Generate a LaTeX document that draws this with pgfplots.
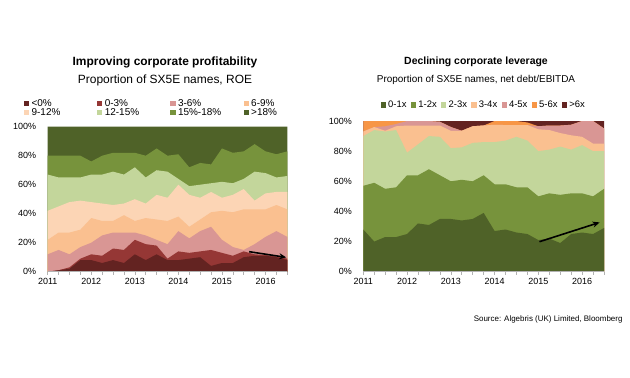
\documentclass[border=0pt]{standalone}
\usepackage{fontspec}
\setmainfont{Liberation Sans}
\usepackage{pgfplots}
\usepackage{pgfplotstable}
\pgfplotsset{compat=1.18}
\usetikzlibrary{arrows.meta}
\definecolor{cA}{RGB}{99,35,33}
\definecolor{cB}{RGB}{149,55,53}
\definecolor{cC}{RGB}{217,150,148}
\definecolor{cD}{RGB}{250,192,144}
\definecolor{cE}{RGB}{252,213,181}
\definecolor{cF}{RGB}{195,214,155}
\definecolor{cG}{RGB}{119,147,60}
\definecolor{cH}{RGB}{79,98,40}
\definecolor{cO}{RGB}{247,150,70}

% cumulative upper boundaries (in %) of each band, quarterly from 2011Q1
\pgfplotstableread{
x  a   b    c   d   e   f   g   h
0  0   0    12  22  42  67  80  100
1  1   1    15  27  45  65  80  100
2  2   3    12  27  48  65  80  100
3  8   9    17  29  49  65  80  100
4  8   12   20  37  48  67  76  100
5  6   11   25  35  47  67  80  100
6  8   16   27  35  46  69  82  100
7  6   15   27  39  47  67  82  100
8  12  22   27  35  50  72  82  100
9  8   19   25  37  47  65  80  100
10 12  18   22  36  53  70  85  100
11 8   9    19  35  51  69  80  100
12 8   14   28  38  60  64  81  100
13 9   13   23  31  53  59  72  100
14 10  14   28  36  51  60  75  100
15 4   15   31  41  55  61  74  100
16 6   13   22  42  51  62  85  100
17 6   11   17  41  53  61  82  100
18 10  14   15  43  57  64  83  100
19 11  12   19  43  49  69  88  100
20 11  11.5 24  43  54  68  83  100
21 10  10.5 28  46  55  65  81  100
22 8   9    24  43  55  66  83  100
}\roe

\pgfplotstableread{
x  a   b   c     d     e     f     g
0  28  57  90    93    93    100   100
1  20  59  94    96    96    100   100
2  23  55  93    93.5  96.5  100   100
3  23  56  94    96.5  98    100   100
4  25  64  79    97    100   100   100
5  32  64  84.5  97    100   100   100
6  31  68  90    97    100   100   100
7  35  64  89.5  97    99.5  99.5  100
8  35  60  82    93.5  96    96    100
9  34  61  82.5  93.5  93.5  93.5  100
10 35  60  85.5  96.5  96.5  96.5  100
11 39  64  86    97    97    97    100
12 27  58  86    97.5  97.5  100   100
13 28  58  87    97.3  97.3  100   100
14 26  56  89.5  97.3  97.3  100   100
15 25  56  87    97.3  97.3  99    100
16 21  50  80    94.5  96.5  96.5  100
17 22  52  81    94    97    97    100
18 19  51  83    92    97    97    100
19 25  52  81    90.5  97.5  97.5  100
20 26  52  84    89.5  100   100   100
21 25  50  80    85    100   100   100
22 29  55  80    85    95    95    100
}\lev

\pgfplotsset{
  myax/.style={
    scale only axis,
    xmin=0, xmax=22, ymin=0, ymax=100,
    axis x line*=bottom, axis y line*=left,
    y axis line style={draw=none},
    x axis line style={draw=gray!60, line width=0.6pt},
    xtick={0,4,8,12,16,20},
    xticklabels={2011,2012,2013,2014,2015,2016},
    minor xtick={0,1,...,22},
    xtick style={draw=gray!60, line width=0.6pt},
    major tick length=3bp, minor tick length=3bp,
    tick align=outside,
    ytick={0,20,40,60,80,100},
    ytick style={draw=none},
    yticklabel={\pgfmathprintnumber{\tick}\%},
    yticklabel style={xshift=-5bp},
    tick label style={font=\fontsize{9}{10}\selectfont},
    /pgf/number format/assume math mode=true,
    axis on top,
    legend cell align=left,
    legend image code/.code={\fill[##1, draw=none] (0bp,-2.6bp) rectangle (5.2bp,2.6bp);},
  },
  ar/.style={draw=none, forget plot},
}

\begin{document}
\begin{tikzpicture}
\path[use as bounding box, fill=white] (0,0) rectangle (630bp,-378bp);

\node[font=\bfseries\fontsize{12}{14}\selectfont] at (165bp,-62bp) {Improving corporate profitability};
\node[font=\fontsize{12}{14}\selectfont] at (165bp,-80bp) {Proportion of SX5E names, ROE};
\node[font=\bfseries\fontsize{10.5}{12}\selectfont] at (476bp,-62bp) {Declining corporate leverage};
\node[font=\fontsize{10}{12}\selectfont] at (476bp,-80bp) {Proportion of SX5E names, net debt/EBITDA};
\node[font=\fontsize{8}{9}\selectfont, anchor=east] at (626bp,-319bp) {Source: Algebris (UK) Limited, Bloomberg};

\begin{axis}[myax, width=239.6bp, height=145bp, at={(47.7bp,-271.7bp)}, anchor=south west,
  legend columns=4,
  legend style={draw=none, fill=none, inner sep=0pt, at={(-0.100,1.197)}, anchor=north west,
    font=\fontsize{10}{11}\selectfont, row sep=-1.5bp,
    nodes={inner sep=1bp}},
]
\addlegendimage{fill=cA}\addlegendentry{\makebox[66bp][l]{\hspace*{1.5bp}<0\%}}
\addlegendimage{fill=cB}\addlegendentry{\makebox[66bp][l]{\hspace*{1.5bp}0-3\%}}
\addlegendimage{fill=cC}\addlegendentry{\makebox[66bp][l]{\hspace*{1.5bp}3-6\%}}
\addlegendimage{fill=cD}\addlegendentry{\makebox[66bp][l]{\hspace*{1.5bp}6-9\%}}
\addlegendimage{fill=cE}\addlegendentry{\makebox[66bp][l]{\hspace*{1.5bp}9-12\%}}
\addlegendimage{fill=cF}\addlegendentry{\makebox[66bp][l]{\hspace*{1.5bp}12-15\%}}
\addlegendimage{fill=cG}\addlegendentry{\makebox[66bp][l]{\hspace*{1.5bp}15\%-18\%}}
\addlegendimage{fill=cH}\addlegendentry{\makebox[66bp][l]{\hspace*{1.5bp}>18\%}}
\addplot[ar, fill=cH] table[x=x,y=h] {\roe} \closedcycle;
\addplot[ar, fill=cG] table[x=x,y=g] {\roe} \closedcycle;
\addplot[ar, fill=cF] table[x=x,y=f] {\roe} \closedcycle;
\addplot[ar, fill=cE] table[x=x,y=e] {\roe} \closedcycle;
\addplot[ar, fill=cD] table[x=x,y=d] {\roe} \closedcycle;
\addplot[ar, fill=cC] table[x=x,y=c] {\roe} \closedcycle;
\addplot[ar, fill=cB] table[x=x,y=b] {\roe} \closedcycle;
\addplot[ar, fill=cA] table[x=x,y=a] {\roe} \closedcycle;
\draw[-{Stealth[length=7bp,width=6bp]}, line width=1.6pt, black] (axis cs:18.5,13.8) -- (axis cs:21.9,9.9);
\end{axis}

\begin{axis}[myax, width=240.7bp, height=150.7bp, at={(363.3bp,-271.7bp)}, anchor=south west,
  legend columns=7,
  legend style={draw=none, fill=none, inner sep=0pt, at={(0.072,1.106)}, anchor=west,
    font=\fontsize{9.5}{11}\selectfont,
    nodes={inner sep=1bp}},
]
\addlegendimage{fill=cH}\addlegendentry{\makebox[23bp][l]{\hspace*{1.2bp}0-1x}}
\addlegendimage{fill=cG}\addlegendentry{\makebox[23bp][l]{\hspace*{1.2bp}1-2x}}
\addlegendimage{fill=cF}\addlegendentry{\makebox[23bp][l]{\hspace*{1.2bp}2-3x}}
\addlegendimage{fill=cD}\addlegendentry{\makebox[23bp][l]{\hspace*{1.2bp}3-4x}}
\addlegendimage{fill=cC}\addlegendentry{\makebox[23bp][l]{\hspace*{1.2bp}4-5x}}
\addlegendimage{fill=cO}\addlegendentry{\makebox[23bp][l]{\hspace*{1.2bp}5-6x}}
\addlegendimage{fill=cA}\addlegendentry{\makebox[23bp][l]{\hspace*{1.2bp}>6x}}
\addplot[ar, fill=cA] table[x=x,y=g] {\lev} \closedcycle;
\addplot[ar, fill=cO] table[x=x,y=f] {\lev} \closedcycle;
\addplot[ar, fill=cC] table[x=x,y=e] {\lev} \closedcycle;
\addplot[ar, fill=cD] table[x=x,y=d] {\lev} \closedcycle;
\addplot[ar, fill=cF] table[x=x,y=c] {\lev} \closedcycle;
\addplot[ar, fill=cG] table[x=x,y=b] {\lev} \closedcycle;
\addplot[ar, fill=cH] table[x=x,y=a] {\lev} \closedcycle;
\draw[-{Stealth[length=7bp,width=6bp]}, line width=1.6pt, black] (axis cs:16.1,19.9) -- (axis cs:21.6,32.7);
\end{axis}
\end{tikzpicture}
\end{document}
